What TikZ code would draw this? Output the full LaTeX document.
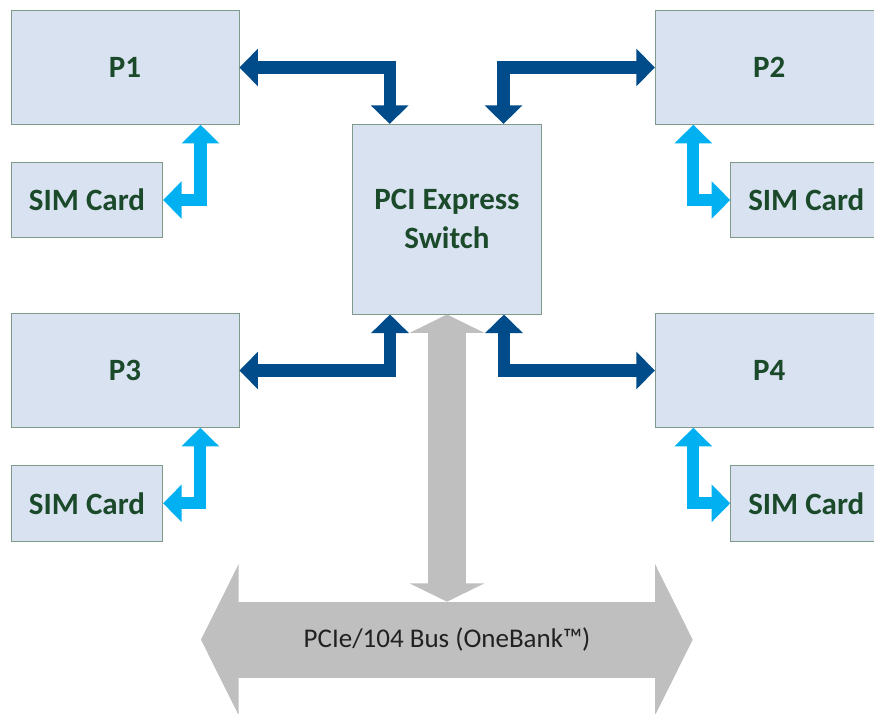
\documentclass[tikz,border=0pt]{standalone}
\usepackage{fontspec}
\setmainfont{Carlito}
\usetikzlibrary{arrows.meta}
\definecolor{boxfill}{HTML}{D9E2F1}
\definecolor{boxline}{HTML}{7F9A8B}
\definecolor{txtgreen}{HTML}{1B4A2B}
\definecolor{darkblue}{HTML}{004C8B}
\definecolor{lightblue}{HTML}{00B0F0}
\definecolor{busgray}{HTML}{BFBFBF}
\tikzset{
  unitbox/.style={draw=boxline, line width=0.9pt, fill=boxfill, inner sep=0pt,
    font=\fontsize{31}{37}\selectfont\bfseries, text=txtgreen, align=center},
  pbox/.style={unitbox, minimum width=228pt, minimum height=113.6pt},
  simbox/.style={unitbox, minimum width=151.3pt, minimum height=75.4pt},
  darr/.style={draw=darkblue, line width=12.3pt, line join=miter,
    {Triangle[width=36.6pt,length=18.5pt]}-{Triangle[width=36.6pt,length=18.5pt]}},
  larr/.style={draw=lightblue, line width=12.3pt, line join=miter,
    {Triangle[width=36.4pt,length=18.5pt]}-{Triangle[width=36.4pt,length=18.5pt]}},
  garr/.style={draw=busgray, line width=37.7pt,
    {Triangle[width=74.3pt,length=18.4pt]}-{Triangle[width=74.3pt,length=18.4pt]}},
  busarr/.style={draw=busgray, line width=76pt,
    {Triangle[width=150pt,length=37.7pt]}-{Triangle[width=150pt,length=37.7pt]}},
}
\begin{document}
\begin{tikzpicture}[x=1pt,y=-1pt]
\clip (0,0) rectangle (874,713);
\fill[white] (0,0) rectangle (874,713);
% boxes
\node[pbox] (p1) at (125,67.5) {P1};
\node[pbox] (p2) at (769.3,67.5) {P2};
\node[pbox] (p3) at (125,370.5) {P3};
\node[pbox] (p4) at (769.3,370.5) {P4};
\node[unitbox, minimum width=189.4pt, minimum height=189.7pt] (sw) at (447,219.2) {PCI Express\\[2pt]Switch};
\node[simbox] (sim1) at (87,200) {SIM Card};
\node[simbox] (sim2) at (806.3,200) {SIM Card};
\node[simbox] (sim3) at (87,503.3) {SIM Card};
\node[simbox] (sim4) at (806.3,503.3) {SIM Card};
% bus
\coordinate (busL) at (201,639.7);
\coordinate (busR) at (692.7,639.7);
\coordinate (bustop) at (447,601.7);
\draw[busarr] (busL) -- (busR);
\node[font=\fontsize{27}{32}\selectfont, text=black!87] (bus) at (447,639.7) {PCIe/104 Bus (OneBank™)};
\draw[garr] (sw.south) -- (bustop);
% dark blue switch links
\draw[darr] (p1.east) -| ([xshift=-57.3pt]sw.north);
\draw[darr] (p2.west) -| ([xshift=56.5pt]sw.north);
\draw[darr] (p3.east) -| ([xshift=-57pt]sw.south);
\draw[darr] (p4.west) -| ([xshift=57pt]sw.south);
% light blue SIM links
\draw[larr] ([xshift=75.5pt]p1.south) |- (sim1.east);
\draw[larr] ([xshift=-76pt]p2.south) |- (sim2.west);
\draw[larr] ([xshift=75.3pt]p3.south) |- (sim3.east);
\draw[larr] ([xshift=-76pt]p4.south) |- (sim4.west);
\end{tikzpicture}
\end{document}
